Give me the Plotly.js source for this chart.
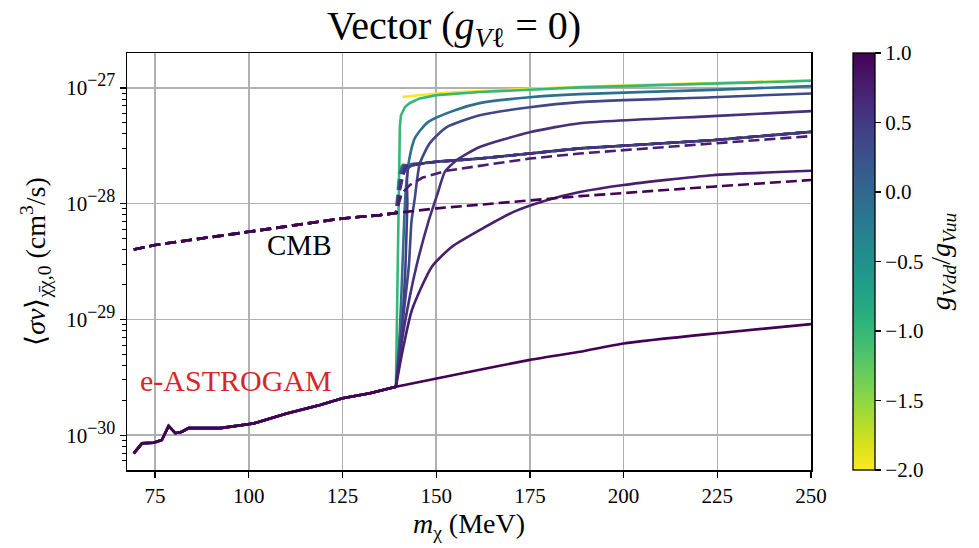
<!DOCTYPE html>
<html><head><meta charset="utf-8">
<script src="https://cdn.plot.ly/plotly-3.0.1.min.js"></script>
<style>html,body{margin:0;padding:0;background:#fff}#chart{width:979px;height:548px}</style>
</head><body><div id="chart"></div>
<script>
// coupling ratios g_Vdd / g_Vuu (colour of each curve)
const ratios = [-2, -1, -0.1, 0.35, 0.45, 0.6, 0.75, 1];
// does the pi0-gamma channel exist below the pi+pi- threshold for this ratio
const hasLowMass = [false, true, true, true, true, true, true, true];

// shared low-mass part (only pi0 gamma open): e-ASTROGAM
const baseMass = [69.3, 71.5, 74.6, 76.8, 78.6, 80.4, 82.2, 83.9, 92.4, 96.8, 101.2, 110.1, 119.0, 125.0, 132.3, 139.25];
const astroBase = [6.97e-31, 8.5e-31, 8.6e-31, 9.07e-31, 1.2e-30, 1.04e-30, 1.07e-30, 1.15e-30, 1.15e-30, 1.2e-30, 1.26e-30, 1.54e-30, 1.82e-30, 2.08e-30, 2.3e-30, 2.62e-30];
// shared low-mass part: CMB
const cmbBaseMass = [69.3, 75, 100, 125, 135, 139.25];
const cmbBase = [4.02e-29, 4.39e-29, 5.71e-29, 7.45e-29, 7.96e-29, 8.3e-29];

// e-ASTROGAM above the pi+pi- threshold, one array per ratio
const astroBranchMass = [
  [141.0, 150.1, 161.6, 188.3, 223.7, 250],
  [140.3, 140.6, 141.7, 143.0, 145.6, 150.1, 161.6, 188.3, 223.7, 250],
  [140.3, 141.0, 141.8, 142.8, 144.3, 147.8, 155.0, 161.6, 175.0, 188.3, 223.7, 250],
  [140.6, 142.7, 143.4, 144.3, 145.6, 148.3, 152.8, 161.6, 175.0, 188.3, 223.7, 250],
  [140.8, 141.8, 142.3, 142.7, 150.1, 161.6, 175.0, 188.3, 223.7, 250],
  [141.0, 143.0, 144.8, 147.9, 150.5, 152.3, 155.5, 161.6, 175.0, 188.3, 223.7, 250],
  [140.9, 143.5, 148.8, 154.2, 161.6, 170.5, 179.5, 188.3, 200.0, 223.7, 250],
  [150.1, 175.0, 188.3, 200.0, 225.0, 250]
];
const astroBranchSigma = [
  [8.36e-28, 8.95e-28, 9.37e-28, 1.02e-27, 1.10e-27, 1.16e-27],
  [4.6e-28, 5.8e-28, 6.86e-28, 7.4e-28, 8.1e-28, 8.65e-28, 9.2e-28, 1.01e-27, 1.09e-27, 1.15e-27],
  [8e-30, 2.9e-29, 1.2e-28, 2.4e-28, 3.68e-28, 5.06e-28, 6.41e-28, 7.38e-28, 8.3e-28, 8.82e-28, 9.6e-28, 1.035e-27],
  [7e-30, 2.9e-29, 7e-29, 1.12e-28, 2.2e-28, 3.33e-28, 4.58e-28, 5.8e-28, 6.8e-28, 7.53e-28, 8.3e-28, 8.95e-28],
  [8e-30, 2.9e-29, 1.0e-28, 2.05e-28, 2.3e-28, 2.45e-28, 2.71e-28, 3.0e-28, 3.53e-28, 4.17e-28],
  [7e-30, 1.6e-29, 2.95e-29, 6.97e-29, 1.26e-28, 1.88e-28, 2.38e-28, 3.08e-28, 4.14e-28, 4.95e-28, 5.7e-28, 6.3e-28],
  [5.1e-30, 1.2e-29, 2.84e-29, 4.24e-29, 5.9e-29, 8.45e-29, 1.07e-28, 1.26e-28, 1.45e-28, 1.76e-28, 1.92e-28],
  [3.09e-30, 4.47e-30, 5.25e-30, 6.2e-30, 7.6e-30, 9.1e-30]
];

// CMB above the pi+pi- threshold, one array per ratio
const cmbBranchMass = [
  [141.0, 150.1, 161.6, 175.0, 188.3, 223.7, 250],
  [140.2, 141.0, 150.1, 161.6, 175.0, 188.3, 223.7, 250],
  [140.4, 141.2, 150.1, 161.6, 175.0, 188.3, 223.7, 250],
  [140.6, 141.5, 150.1, 161.6, 175.0, 188.3, 223.7, 250],
  [140.8, 141.8, 150.1, 161.6, 175.0, 188.3, 223.7, 250],
  [140.3, 141.2, 142.1, 150.1, 161.6, 175.0, 188.3, 223.7, 250],
  [140.8, 143.0, 146.4, 152.8, 161.6, 175.0, 188.3, 223.7, 250],
  [150.1, 175.0, 188.3, 223.7, 250]
];
const cmbBranchSigma = [
  [2.15e-28, 2.3e-28, 2.45e-28, 2.71e-28, 3.0e-28, 3.53e-28, 4.17e-28],
  [2.0e-28, 2.15e-28, 2.3e-28, 2.45e-28, 2.71e-28, 3.0e-28, 3.53e-28, 4.17e-28],
  [1.9e-28, 2.16e-28, 2.3e-28, 2.45e-28, 2.71e-28, 3.0e-28, 3.53e-28, 4.17e-28],
  [1.8e-28, 2.14e-28, 2.3e-28, 2.45e-28, 2.71e-28, 3.0e-28, 3.53e-28, 4.17e-28],
  [1.7e-28, 2.13e-28, 2.3e-28, 2.45e-28, 2.71e-28, 3.0e-28, 3.53e-28, 4.17e-28],
  [1.3e-28, 1.75e-28, 2.12e-28, 2.3e-28, 2.45e-28, 2.71e-28, 3.0e-28, 3.53e-28, 4.17e-28],
  [1.22e-28, 1.45e-28, 1.68e-28, 1.92e-28, 2.12e-28, 2.45e-28, 2.71e-28, 3.31e-28, 3.83e-28],
  [9.1e-29, 1.06e-28, 1.16e-28, 1.4e-28, 1.6e-28]
];

const yTickVals = [1e-30, 1e-29, 1e-28, 1e-27];
const yTickExp = ['−30', '−29', '−28', '−27'];
const xTickVals = [75, 100, 125, 150, 175, 200, 225, 250];
const cbTickVals = [-2, -1.5, -1, -0.5, 0, 0.5, 1];
const cbTickText = ['−2.0', '−1.5', '−1.0', '−0.5', '0.0', '0.5', '1.0'];

// Plotly Viridis stops, used to colour the lines like the colour bar
const VIR = [[0,'#440154'],[0.06274509803921569,'#48186a'],[0.12549019607843137,'#472d7b'],[0.18823529411764706,'#424086'],[0.25098039215686274,'#3b528b'],[0.3137254901960784,'#33638d'],[0.3764705882352941,'#2c728e'],[0.4392156862745098,'#26828e'],[0.5019607843137255,'#21918c'],[0.5647058823529412,'#1fa088'],[0.6274509803921569,'#28ae80'],[0.6901960784313725,'#3fbc73'],[0.7529411764705882,'#5ec962'],[0.8156862745098039,'#84d44b'],[0.8784313725490196,'#addc30'],[0.9411764705882353,'#d8e219'],[1,'#fde725']];
function hex2rgb(h){return [parseInt(h.slice(1,3),16),parseInt(h.slice(3,5),16),parseInt(h.slice(5,7),16)];}
function viridis(t){
  t = Math.max(0, Math.min(1, t));
  for (let i = 1; i < VIR.length; i++) {
    if (t <= VIR[i][0]) {
      const a = VIR[i-1], b = VIR[i];
      const f = (t - a[0]) / (b[0] - a[0]);
      const ca = hex2rgb(a[1]), cb = hex2rgb(b[1]);
      const c = ca.map((v, k) => Math.round(v + f * (cb[k] - v)));
      return 'rgb(' + c.join(',') + ')';
    }
  }
  return VIR[VIR.length-1][1];
}
const CMIN = -2, CMAX = 1;
function ratioColor(r){ return viridis(1 - (r - CMIN) / (CMAX - CMIN)); } // reversed scale

const LW = 2.6;
const traces = [];
ratios.forEach((r, i) => {
  const col = ratioColor(r);
  const last = baseMass.length - 1;
  if (hasLowMass[i]) {
    traces.push({x: baseMass, y: astroBase, mode: 'lines', line: {color: col, width: LW}, hoverinfo: 'skip', showlegend: false});
  }
  const bx = hasLowMass[i] ? [baseMass[last]].concat(astroBranchMass[i]) : astroBranchMass[i];
  const by = hasLowMass[i] ? [astroBase[last]].concat(astroBranchSigma[i]) : astroBranchSigma[i];
  const smooth = (r === -1) ? {shape: 'linear'} : {shape: 'spline', smoothing: 0.6};
  traces.push({x: bx, y: by, mode: 'lines', line: Object.assign({color: col, width: LW}, smooth), hoverinfo: 'skip', showlegend: false});
  const cx = hasLowMass[i] ? cmbBaseMass.concat(cmbBranchMass[i]) : cmbBranchMass[i];
  const cy = hasLowMass[i] ? cmbBase.concat(cmbBranchSigma[i]) : cmbBranchSigma[i];
  traces.push({x: cx, y: cy, mode: 'lines', line: {color: col, width: LW, dash: '11px,5px'}, hoverinfo: 'skip', showlegend: false});
});

const FONT = 'Liberation Serif, Times New Roman, serif';
// colour bar carrier
traces.push({
  x: [null], y: [null], mode: 'markers', showlegend: false, hoverinfo: 'skip',
  marker: {color: ratios, colorscale: 'Viridis', reversescale: true, cmin: CMIN, cmax: CMAX, showscale: true, size: 0.1,
    colorbar: {x: 1.0614, xanchor: 'left', xref: 'paper', y: 0.5, yanchor: 'middle', len: 1, lenmode: 'fraction',
      thickness: 22, thicknessmode: 'pixels', xpad: 0, ypad: 0, outlinecolor: '#000', outlinewidth: 1.3,
      ticks: 'outside', ticklen: 6, tickwidth: 1.3, tickcolor: '#000',
      tickmode: 'array', tickvals: cbTickVals, ticktext: cbTickText,
      tickfont: {family: FONT, size: 21, color: '#000'},
      title: {text: '<i>g</i><sub><i>Vdd</i></sub>/<i>g</i><sub><i>Vuu</i></sub>', side: 'right', font: {family: FONT, size: 28, color: '#000'}}
    }}
});

const minorVals = [];
for (let d = -31; d <= -28; d++) for (let k = 2; k <= 9; k++) { const v = k * Math.pow(10, d); if (v > 5e-31 && v < 2e-27) minorVals.push(v); }

const layout = {
  width: 979, height: 548,
  paper_bgcolor: '#fff', plot_bgcolor: '#fff',
  margin: {l: 127, r: 168, t: 53, b: 78},
  font: {family: FONT, color: '#000'},
  title: {text: 'Vector (<i>g</i><sub><i>V</i>ℓ</sub> = 0)', font: {family: FONT, size: 40, color: '#000'},
    x: 0.4637, xanchor: 'center', xref: 'container', y: 0.955, yanchor: 'middle', yref: 'container'},
  xaxis: {range: [67.5, 250], tickmode: 'array', tickvals: xTickVals, ticks: 'outside', ticklen: 6, tickwidth: 1.3,
    tickcolor: '#000', showline: true, linecolor: '#000', linewidth: 1.5, mirror: true,
    showgrid: true, gridcolor: '#b0b0b0', gridwidth: 1.5, zeroline: false,
    tickfont: {family: FONT, size: 21, color: '#000'},
    title: {text: '<i>m</i><sub>χ</sub> (MeV)', font: {family: FONT, size: 28, color: '#000'}, standoff: 4}},
  yaxis: {type: 'log', range: [Math.log10(5e-31), Math.log10(2e-27)], tickmode: 'array', tickvals: yTickVals,
    ticktext: yTickExp.map(e => '10<sup><span style="font-size:18px">' + e + '</span></sup>'),
    ticks: 'outside', ticklen: 6, tickwidth: 1.3, tickcolor: '#000', showline: true, linecolor: '#000', linewidth: 1.5, mirror: true,
    showgrid: true, gridcolor: '#b0b0b0', gridwidth: 1.5, zeroline: false,
    minor: {tickmode: 'array', tickvals: minorVals, ticks: 'outside', ticklen: 3.5, tickwidth: 1, tickcolor: '#000', showgrid: false},
    tickfont: {family: FONT, size: 21, color: '#000'},
    title: {text: '⟨<i>σv</i>⟩<sub>χ̄χ,0</sub> (cm<sup>3</sup>/s)', font: {family: FONT, size: 28, color: '#000'}, standoff: 12}},
  annotations: [
    {x: 113.4, y: Math.log10(4.4e-29), xref: 'x', yref: 'y', text: 'CMB', showarrow: false,
      font: {family: FONT, size: 29, color: '#000'}, xanchor: 'center', yanchor: 'middle'},
    {x: 96.6, y: Math.log10(2.97e-30), xref: 'x', yref: 'y', text: 'e-ASTROGAM', showarrow: false,
      font: {family: FONT, size: 30, color: '#d62728'}, xanchor: 'center', yanchor: 'middle'}
  ]
};

Plotly.newPlot('chart', traces, layout, {displayModeBar: false, staticPlot: true});
</script>
</body></html>
